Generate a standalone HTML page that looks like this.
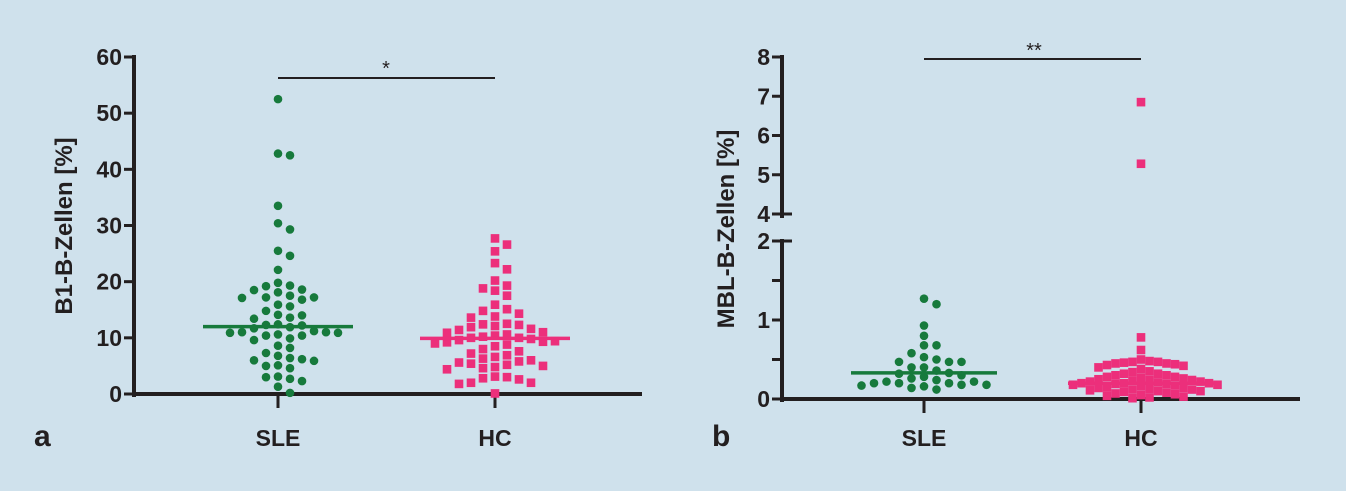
<!DOCTYPE html>
<html><head><meta charset="utf-8"><style>
html,body{margin:0;padding:0;background:#cfe1ec;}
svg{display:block;font-family:"Liberation Sans",Arial,sans-serif;}
</style></head><body>
<svg id="s" width="1346" height="491" xmlns="http://www.w3.org/2000/svg"></svg>
<script>
const groups = ["SLE","HC"];
const aSLE = [52.5,42.8,42.5,33.5,30.4,29.3,25.5,24.6,22.1,19.8,19.2,19.3,18.6,18.5,18.1,17.2,17.1,17.5,17.2,16.8,15.9,15.6,14.8,14.1,14.0,13.6,13.4,12.4,12.2,12.3,11.9,11.7,11.2,11.0,11.0,10.9,10.9,10.6,10.4,10.4,9.9,9.6,8.6,8.2,7.3,6.8,6.4,6.2,6.0,5.9,5.1,5.0,4.6,3.1,3.0,2.7,2.3,1.3,0.2];
const aHC = [27.7,26.6,25.4,23.3,22.2,20.2,19.3,18.8,18.4,17.5,15.9,15.1,14.8,14.3,13.8,13.6,12.4,12.5,12.3,12.1,11.9,11.6,11.4,11.0,10.9,10.6,10.4,10.2,10.0,10.0,9.8,9.6,9.4,9.3,9.2,9.0,8.8,8.5,8.0,7.6,7.2,6.9,6.6,6.3,6.0,5.8,5.6,5.4,5.2,5.0,4.8,4.6,4.4,3.1,3.0,2.8,2.6,2.0,2.0,1.8,0.1];
const aMeans = [12.0,9.9];
const aTicks = [0,10,20,30,40,50,60];
const bSLE = [1.27,1.2,0.93,0.8,0.68,0.68,0.58,0.53,0.5,0.47,0.47,0.47,0.4,0.4,0.36,0.33,0.32,0.3,0.28,0.26,0.24,0.22,0.22,0.2,0.2,0.2,0.18,0.18,0.17,0.16,0.14,0.12];
const bHC = [6.85,5.28,0.78,0.62,0.5,0.48,0.47,0.47,0.46,0.45,0.45,0.44,0.43,0.42,0.4,0.38,0.35,0.34,0.32,0.32,0.3,0.3,0.28,0.28,0.27,0.26,0.25,0.24,0.24,0.23,0.22,0.22,0.21,0.2,0.2,0.2,0.19,0.19,0.18,0.18,0.17,0.16,0.15,0.14,0.14,0.13,0.12,0.12,0.11,0.1,0.1,0.09,0.08,0.07,0.06,0.05,0.04,0.03,0.02,0.01];
const bMeans = [0.33,0.2];
const bTicksLow = [0,0.5,1,1.5,2];
const bTicksHigh = [4,5,6,7,8];
const bLabelsLow = ["0","","1","","2"];

const svg = document.getElementById('s');
const NS = "http://www.w3.org/2000/svg";
function mk(tag, attrs, name, txt){
  const e = document.createElementNS(NS, tag);
  for (const k in attrs) e.setAttribute(k, attrs[k]);
  
  
  if (txt !== undefined) e.textContent = txt;
  svg.appendChild(e); return e;
}
const GREEN = "#177a3c", PINK = "#ec2f7b", INK = "#231f20";
const TF = 'font-size:23px;font-weight:bold;';

function swarm(vals, yf, cx, colW, minDy){
  const placed = []; const out = [];
  const sorted = vals.slice().sort((a,b)=>b-a);
  for (const v of sorted){
    const y = yf(v);
    let x = cx;
    for (let k=0;k<60;k++){
      const tx = cx + (k===0?0:Math.ceil(k/2)*colW*(k%2?1:-1));
      let ok = true;
      for (const p of placed){ if (Math.abs(p[0]-tx)<1 && Math.abs(p[1]-y)<minDy){ ok=false; break; } }
      if (ok){ x = tx; break; }
    }
    placed.push([x,y]); out.push([x,y]);
  }
  return out;
}

// ---------- Chart a ----------
const aX0 = 134, aY0 = 394, aPx = (394-57)/60;
const ay = v => aY0 - v*aPx;
const aCx = [278, 495];
mk('line',{x1:aX0,y1:ay(60)-2,x2:aX0,y2:aY0+3,stroke:INK,'stroke-width':4},'y-axis-a');
mk('line',{x1:aX0-2,y1:aY0,x2:642,y2:aY0,stroke:INK,'stroke-width':4},'x-axis-a');
aTicks.forEach(t=>{
  mk('line',{x1:aX0-10,y1:ay(t),x2:aX0,y2:ay(t),stroke:INK,'stroke-width':3},'y-tick-a');
  mk('text',{x:aX0-12,y:ay(t)+8,'text-anchor':'end',style:TF,fill:INK},'y-tick-label-a',String(t));
});
groups.forEach((g,i)=>{
  mk('line',{x1:aCx[i],y1:aY0,x2:aCx[i],y2:aY0+14,stroke:INK,'stroke-width':3},'x-tick-a');
  mk('text',{x:aCx[i],y:446,'text-anchor':'middle',style:TF,fill:INK},'x-label-a-'+g.toLowerCase(),g);
});
mk('text',{transform:'translate(72,226) rotate(-90)','text-anchor':'middle',style:'font-size:24px;font-weight:bold;',fill:INK},'y-axis-title-a','B1-B-Zellen [%]');
mk('text',{x:34,y:446,style:'font-size:30px;font-weight:bold;',fill:INK},'panel-label-a','a');
mk('line',{x1:aCx[0],y1:78,x2:aCx[1],y2:78,stroke:INK,'stroke-width':2},'significance-bar-a');
mk('text',{x:386,y:75,'text-anchor':'middle','font-size':20,fill:INK},'significance-star-a','*');
swarm(aSLE, ay, aCx[0], 12, 9).forEach(p=>{
  mk('circle',{cx:p[0],cy:p[1],r:4.3,fill:GREEN},'sle-point-a');
});
swarm(aHC, ay, aCx[1], 12, 9).forEach(p=>{
  mk('rect',{x:p[0]-4.3,y:p[1]-4.3,width:8.6,height:8.6,fill:PINK},'hc-point-a');
});
mk('line',{x1:aCx[0]-75,y1:ay(aMeans[0]),x2:aCx[0]+75,y2:ay(aMeans[0]),stroke:GREEN,'stroke-width':3.5},'mean-line-sle-a');
mk('line',{x1:aCx[1]-75,y1:ay(aMeans[1]),x2:aCx[1]+75,y2:ay(aMeans[1]),stroke:PINK,'stroke-width':3.5},'mean-line-hc-a');

// ---------- Chart b ----------
const bX0 = 782, bY0 = 399, bLowPx = (399-241)/2, bHiTop = 57, bHiBot = 214;
const bHiPx = (bHiBot-bHiTop)/4;
const by = v => v <= 2 ? bY0 - v*bLowPx : bHiBot - (v-4)*bHiPx;
const bCx = [924, 1141];
mk('line',{x1:bX0,y1:by(8)-2,x2:bX0,y2:bHiBot+4,stroke:INK,'stroke-width':4},'y-axis-b-upper');
mk('line',{x1:bX0,y1:by(2)-2,x2:bX0,y2:bY0+3,stroke:INK,'stroke-width':4},'y-axis-b-lower');
mk('line',{x1:bX0-2,y1:bY0,x2:1300,y2:bY0,stroke:INK,'stroke-width':4},'x-axis-b');
bTicksHigh.forEach(t=>{
  mk('line',{x1:bX0-10,y1:by(t),x2:bX0+(t===4?10:0),y2:by(t),stroke:INK,'stroke-width':3},'y-tick-b');
  mk('text',{x:bX0-12,y:by(t)+8,'text-anchor':'end',style:TF,fill:INK},'y-tick-label-b',String(t));
});
bTicksLow.forEach((t,i)=>{
  mk('line',{x1:bX0-10,y1:by(t),x2:bX0+(t===2?10:0),y2:by(t),stroke:INK,'stroke-width':3},'y-tick-b');
  if (bLabelsLow[i]) mk('text',{x:bX0-12,y:by(t)+8,'text-anchor':'end',style:TF,fill:INK},'y-tick-label-b',bLabelsLow[i]);
});
groups.forEach((g,i)=>{
  mk('line',{x1:bCx[i],y1:bY0,x2:bCx[i],y2:bY0+14,stroke:INK,'stroke-width':3},'x-tick-b');
  mk('text',{x:bCx[i],y:446,'text-anchor':'middle',style:TF,fill:INK},'x-label-b-'+g.toLowerCase(),g);
});
mk('text',{transform:'translate(734,229) rotate(-90)','text-anchor':'middle',style:'font-size:24px;font-weight:bold;',fill:INK},'y-axis-title-b','MBL-B-Zellen [%]');
mk('text',{x:712,y:446,style:'font-size:30px;font-weight:bold;',fill:INK},'panel-label-b','b');
mk('line',{x1:bCx[0],y1:59,x2:bCx[1],y2:59,stroke:INK,'stroke-width':2},'significance-bar-b');
mk('text',{x:1034,y:57,'text-anchor':'middle','font-size':20,fill:INK},'significance-stars-b','**');
swarm(bSLE, by, bCx[0], 12.5, 9).forEach(p=>{
  mk('circle',{cx:p[0],cy:p[1],r:4.3,fill:GREEN},'sle-point-b');
});
swarm(bHC, by, bCx[1], 8.5, 8).forEach(p=>{
  mk('rect',{x:p[0]-4.3,y:p[1]-4.3,width:8.6,height:8.6,fill:PINK},'hc-point-b');
});
mk('line',{x1:bCx[0]-73,y1:by(bMeans[0]),x2:bCx[0]+73,y2:by(bMeans[0]),stroke:GREEN,'stroke-width':3.5},'mean-line-sle-b');
mk('line',{x1:bCx[1]-73,y1:by(bMeans[1]),x2:bCx[1]+73,y2:by(bMeans[1]),stroke:PINK,'stroke-width':3.5},'mean-line-hc-b');
</script>
</body></html>
